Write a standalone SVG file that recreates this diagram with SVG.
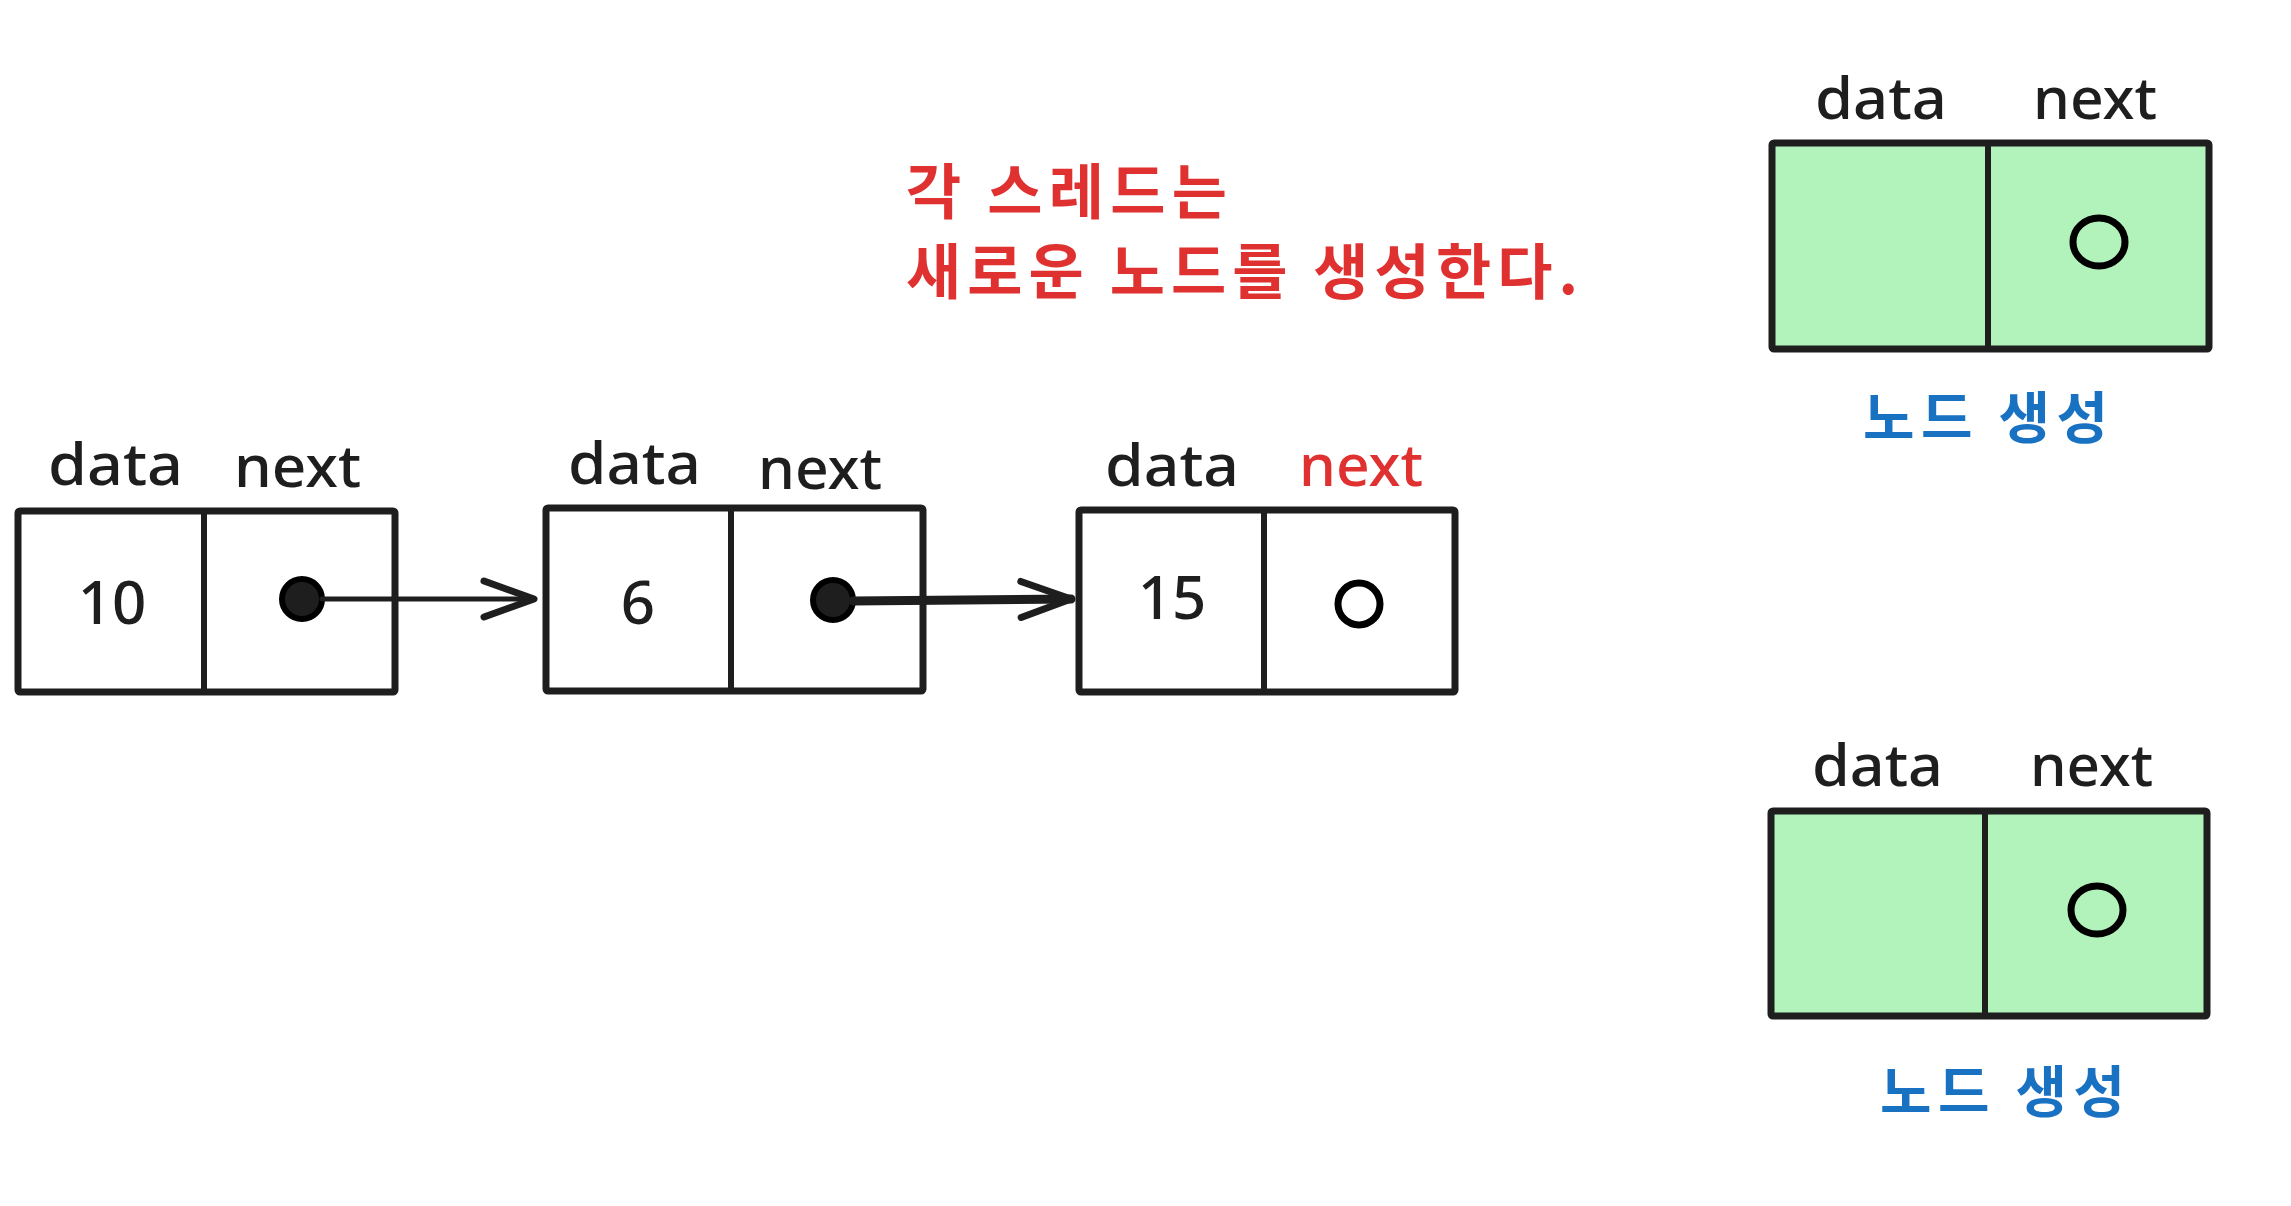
<svg xmlns="http://www.w3.org/2000/svg" width="2291" height="1206" viewBox="0 0 2291 1206">
  <defs>
    <style>
      .box { fill: #ffffff; stroke: #1e1e1e; stroke-width: 7; stroke-linejoin: round; }
      .newbox { fill: #b2f2bb; stroke: #1e1e1e; stroke-width: 7; stroke-linejoin: round; }
      .div { stroke: #1e1e1e; stroke-width: 6; stroke-linecap: round; }
      .lbl { font-family: "Noto Sans", "Liberation Sans", sans-serif; font-size: 58px; font-weight: 500; fill: #1e1e1e; }
      .red { fill: #e03131; }
      .val { font-family: "Noto Sans", "Liberation Sans", sans-serif; font-size: 60px; font-weight: 500; fill: #1e1e1e; text-anchor: middle; }
      .kr { font-family: "Noto Sans CJK KR", "Noto Sans", sans-serif; font-size: 60px; font-weight: 700; }
      .blue { fill: #1971c2; font-size: 56px; }
      .dot { fill: #1e1e1e; stroke: #000000; stroke-width: 6; }
      .ring { fill: none; stroke: #000000; stroke-width: 7; }
      .link { fill: none; stroke: #1e1e1e; stroke-linecap: round; }
    </style>
    <marker id="head" markerUnits="userSpaceOnUse" viewBox="0 0 62 46" markerWidth="62" markerHeight="46" refX="55" refY="23" orient="auto">
      <path d="M5,5 L55,23 L5,41" fill="none" stroke="#1e1e1e" stroke-width="7" stroke-linecap="round" stroke-linejoin="round"/>
    </marker>
  </defs>

  <rect width="2291" height="1206" fill="#ffffff"/>

  <g id="caption">
    <text class="kr red" x="906" y="214" textLength="321" lengthAdjust="spacing">각 스레드는</text>
    <text class="kr red" x="906" y="294" textLength="672" lengthAdjust="spacing">새로운 노드를 생성한다.</text>
  </g>

  <g id="node1">
    <text class="lbl" x="48" y="485" textLength="135" lengthAdjust="spacingAndGlyphs">data</text>
    <text class="lbl" x="234" y="487" textLength="127" lengthAdjust="spacingAndGlyphs">next</text>
    <rect class="box" x="18" y="511" width="377" height="181" rx="2"/>
    <line class="div" x1="204" y1="511" x2="204" y2="692"/>
    <text class="val" x="112" y="624">10</text>
    <circle class="dot" cx="302" cy="599" r="20"/>
  </g>

  <g id="node2">
    <text class="lbl" x="568" y="484" textLength="133" lengthAdjust="spacingAndGlyphs">data</text>
    <text class="lbl" x="758" y="489" textLength="124" lengthAdjust="spacingAndGlyphs">next</text>
    <rect class="box" x="546" y="508" width="377" height="183" rx="2"/>
    <line class="div" x1="731" y1="508" x2="731" y2="691"/>
    <text class="val" x="638" y="624">6</text>
    <circle class="dot" cx="833" cy="600" r="20"/>
  </g>

  <g id="node3">
    <text class="lbl" x="1105" y="486" textLength="134" lengthAdjust="spacingAndGlyphs">data</text>
    <text class="lbl red" x="1299" y="486" textLength="124" lengthAdjust="spacingAndGlyphs">next</text>
    <rect class="box" x="1079" y="510" width="376" height="182" rx="2"/>
    <line class="div" x1="1264" y1="510" x2="1264" y2="692"/>
    <text class="val" x="1172" y="619">15</text>
    <circle class="ring" cx="1359" cy="604" r="21"/>
  </g>

  <g id="new-node-1">
    <text class="lbl" x="1815" y="119" textLength="132" lengthAdjust="spacingAndGlyphs">data</text>
    <text class="lbl" x="2033" y="119" textLength="124" lengthAdjust="spacingAndGlyphs">next</text>
    <rect class="newbox" x="1772" y="143" width="437" height="206" rx="2"/>
    <line class="div" x1="1988" y1="143" x2="1988" y2="349"/>
    <ellipse class="ring" cx="2099" cy="242" rx="26" ry="24"/>
    <text class="kr blue" x="1863" y="438" textLength="245" lengthAdjust="spacing">노드 생성</text>
  </g>

  <g id="new-node-2">
    <text class="lbl" x="1812" y="786" textLength="131" lengthAdjust="spacingAndGlyphs">data</text>
    <text class="lbl" x="2030" y="786" textLength="123" lengthAdjust="spacingAndGlyphs">next</text>
    <rect class="newbox" x="1771" y="811" width="436" height="205" rx="2"/>
    <line class="div" x1="1985" y1="811" x2="1985" y2="1016"/>
    <ellipse class="ring" cx="2097" cy="910" rx="26" ry="24"/>
    <text class="kr blue" x="1880" y="1112" textLength="245" lengthAdjust="spacing">노드 생성</text>
  </g>

  <g id="connectors">
    <line class="link" x1="322" y1="599" x2="534" y2="599" stroke-width="5" marker-end="url(#head)"/>
    <line class="link" x1="853" y1="601" x2="1071" y2="599" stroke-width="9" marker-end="url(#head)"/>
  </g>
</svg>
